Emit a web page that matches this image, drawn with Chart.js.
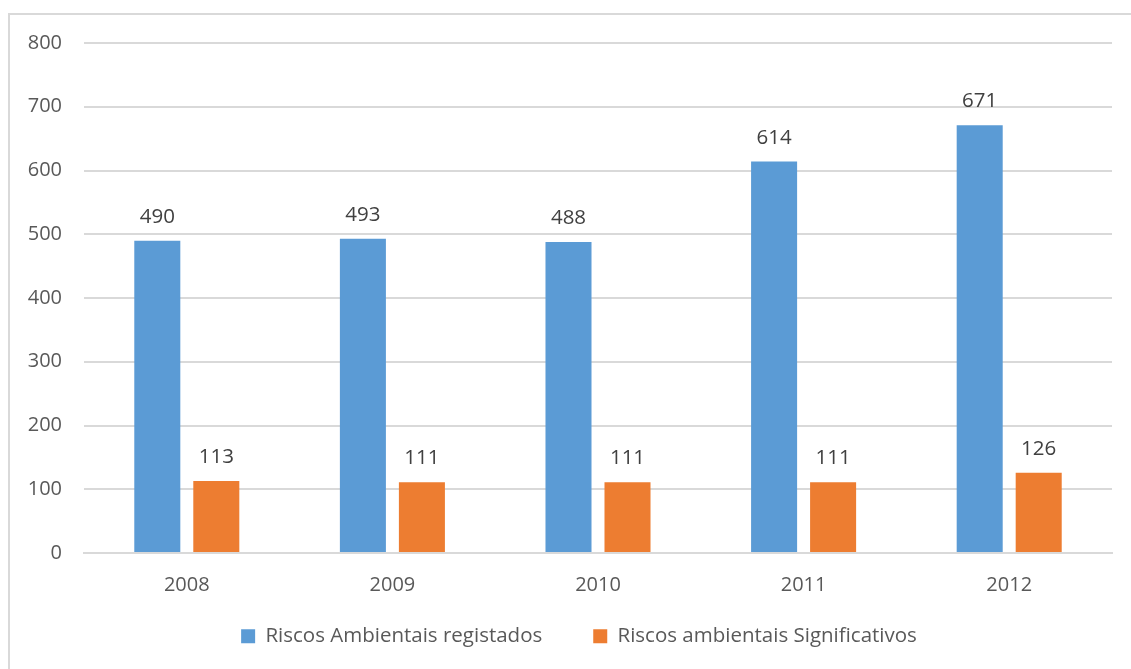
<!DOCTYPE html>
<html>
<head>
<meta charset="utf-8">
<script src="https://cdn.jsdelivr.net/npm/chart.js@4"></script>
<style>
  html, body { margin: 0; padding: 0; background: #fff; }
  #wrap { position: relative; width: 1131px; height: 669px; overflow: hidden; }
  #frame { position: absolute; left: 8px; top: 13px; width: 1200px; height: 700px; border-left: 2px solid #d9d9d9; border-top: 2px solid #d9d9d9; box-sizing: border-box; }
  canvas { position: absolute; left: 0; top: 0; }
</style>
</head>
<body>
<div id="wrap">
  <div id="frame"></div>
  <canvas id="c" width="1131" height="669"></canvas>
</div>
<script>
const categories = ["2008", "2009", "2010", "2011", "2012"];
const registados = [490, 493, 488, 614, 671];
const significativos = [113, 111, 111, 111, 126];
const seriesNames = ["Riscos Ambientais registados", "Riscos ambientais Significativos"];
const yTicks = [0, 100, 200, 300, 400, 500, 600, 700, 800];

const FONT = "'Open Sans', 'Noto Sans', sans-serif";

const valueLabels = {
  id: 'valueLabels',
  afterDatasetsDraw(chart) {
    const ctx = chart.ctx;
    ctx.save();
    ctx.font = "20.5px " + FONT;
    ctx.fillStyle = "#404040";
    ctx.textAlign = "center";
    ctx.textBaseline = "alphabetic";
    chart.data.datasets.forEach((ds, i) => {
      const meta = chart.getDatasetMeta(i);
      meta.data.forEach((el, j) => {
        ctx.fillText(String(ds.data[j]), el.x, el.y - 18);
      });
    });
    ctx.restore();
  }
};

// Move the legend box (layout only) to sit where the reference places it
const legendShift = {
  id: 'legendShift',
  afterLayout(chart) {
    const lg = chart.legend;
    if (!lg) return;
    const dx = 23, dy = -42;
    lg.left += dx; lg.right += dx;
    lg.top += dy; lg.bottom += dy;
  }
};

new Chart(document.getElementById('c'), {
  type: 'bar',
  data: {
    labels: categories,
    datasets: [
      { label: seriesNames[0], data: registados, backgroundColor: '#5B9BD5', borderWidth: 0 },
      { label: seriesNames[1], data: significativos, backgroundColor: '#ED7D31', borderWidth: 0 }
    ]
  },
  options: {
    responsive: false,
    animation: false,
    devicePixelRatio: 1,
    categoryPercentage: 0.574,
    barPercentage: 0.78,
    layout: { padding: { left: 0, right: 19, top: 43, bottom: -29.5 } },
    plugins: {
      tooltip: { enabled: false },
      legend: {
        position: 'bottom',
        labels: {
          font: { family: FONT, size: 20.5 },
          color: '#595959',
          boxWidth: 14,
          boxHeight: 14,
          padding: 51
        }
      }
    },
    scales: {
      x: {
        grid: { display: false, drawTicks: false },
        border: { display: true, color: '#d9d9d9', width: 2 },
        ticks: { font: { family: FONT, size: 20 }, color: '#595959', padding: 20 }
      },
      y: {
        min: 0, max: 800,
        afterFit(scale) { scale.width = 84; },
        afterBuildTicks(scale) { scale.ticks = yTicks.map(v => ({ value: v })); },
        grid: { color: '#d9d9d9', lineWidth: 2, drawTicks: false },
        border: { display: false },
        ticks: { font: { family: FONT, size: 20 }, color: '#595959', padding: 22 }
      }
    }
  },
  plugins: [valueLabels, legendShift]
});
</script>
</body>
</html>
